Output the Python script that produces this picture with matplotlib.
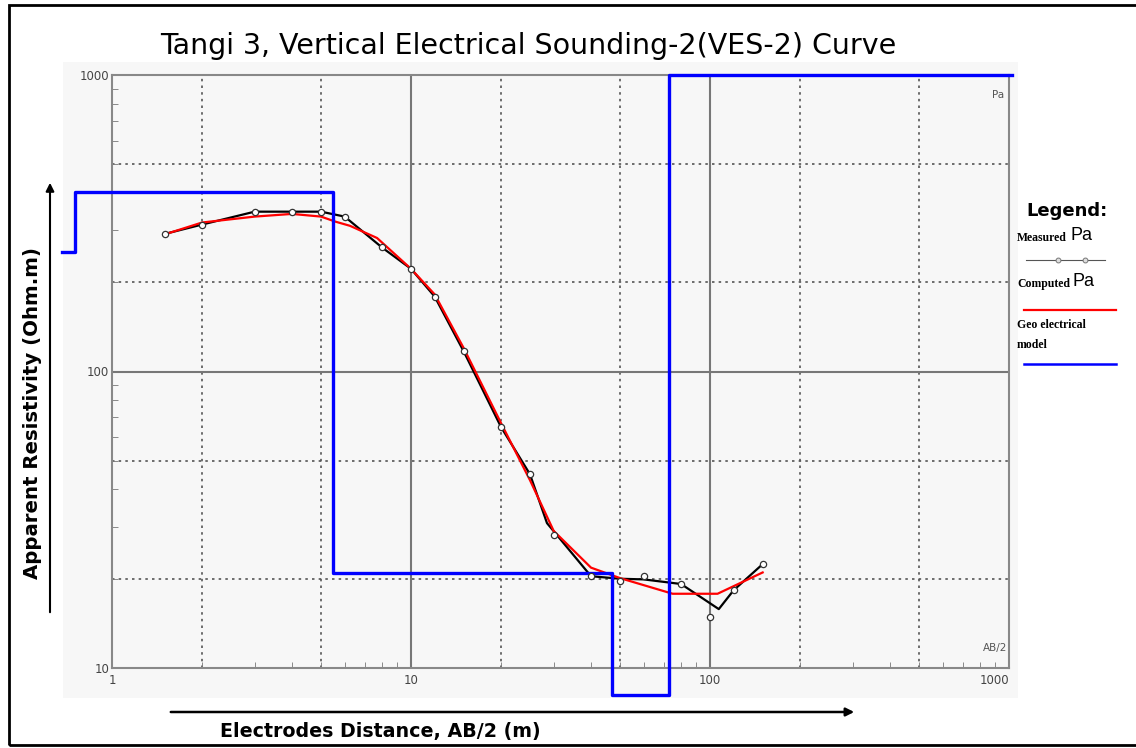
import matplotlib
matplotlib.use('Agg')
import matplotlib.pyplot as plt
from matplotlib.lines import Line2D
from matplotlib.patches import Rectangle

# measured apparent resistivity (open circles)
ab2 = [1.5, 2, 3, 4, 5, 6, 8, 10, 12, 15, 20, 25, 30, 40, 50, 60, 80, 100, 120, 150]
rho_measured = [291, 313, 346, 346, 346, 333, 262, 222, 179, 117, 65, 45, 28.2, 20.4, 19.6, 20.4, 19.2, 14.9, 18.3, 22.4]

# black line through the measured data
line_x = [1.5, 2, 3, 4, 5, 6, 8, 10, 12, 15, 20, 25, 28.5, 40, 50, 60, 80, 107, 120, 150]
line_y = [291, 313, 346, 346, 346, 333, 262, 222, 179, 117, 65, 45, 30.8, 20.4, 20.0, 19.9, 19.2, 15.8, 18.3, 22.4]

# computed curve (red)
comp_x = [1.5, 2, 3, 4, 5, 5.6, 6.25, 7.7, 10, 12, 15, 20, 25, 30, 40, 50, 75, 106, 150]
comp_y = [290, 318, 333, 340, 333, 320, 310, 282, 222, 182, 120, 67, 43, 29, 21.8, 20.1, 17.8, 17.8, 21.0]

# geo-electrical model (blue step)
model_x = [0.68, 0.75, 5.5, 47, 73, 1025]
model_y = [253, 403, 20.9, 8.1, 1000, 1000]

fig = plt.figure(figsize=(11.36, 7.48), dpi=100)
fig.patch.set_facecolor('white')

# light grey panel and outer frame
fig.add_artist(Rectangle((63 / 1136, 1 - 698 / 748), (1018 - 63) / 1136, (698 - 62) / 748,
                         transform=fig.transFigure, facecolor='#f7f7f7', edgecolor='none', zorder=0))
fig.add_artist(Rectangle((9 / 1136, 3 / 748), 1.2, 1 - 8 / 748,
                         transform=fig.transFigure, facecolor='none', edgecolor='black', lw=2, zorder=5))

ax = fig.add_axes([112 / 1136, 1 - 668 / 748, (1009 - 112) / 1136, (668 - 75) / 748])
ax.set_facecolor('#f7f7f7')
ax.set_xscale('log')
ax.set_yscale('log')

# grid
for v in [2, 5, 20, 50, 200, 500]:
    ax.axvline(v, color='#555555', lw=1.2, ls=(0, (1.5, 2.5)), zorder=1)
for v in [20, 50, 200, 500]:
    ax.axhline(v, color='#555555', lw=1.2, ls=(0, (1.5, 2.5)), zorder=1)
for v in [10, 100]:
    ax.axvline(v, color='#777777', lw=1.5, zorder=1)
ax.axhline(100, color='#777777', lw=1.5, zorder=1)

for s in ax.spines.values():
    s.set_color('#888888')
    s.set_linewidth(1.5)

ax.set_xticks([1, 10, 100, 1000])
ax.set_xticklabels(['1', '10', '100', '1000'])
ax.set_yticks([10, 100, 1000])
ax.set_yticklabels(['10', '100', '1000'])
ax.set_xticks([m * d for d in [1, 10, 100] for m in range(2, 10)], minor=True)
ax.set_yticks([m * d for d in [10, 100] for m in range(2, 10)], minor=True)
ax.tick_params(which='major', length=0, labelsize=8.5, labelcolor='#444444', pad=4)
ax.tick_params(which='minor', direction='in', length=4, color='#777777', labelbottom=False, labelleft=False)
ax.tick_params(axis='y', which='major', pad=2)
ax.get_xticklabels()[-1].set_horizontalalignment('right')

ax.text(0.995, 0.975, 'Pa', transform=ax.transAxes, ha='right', va='top', fontsize=7.5, color='#555555')
ax.text(0.998, 0.025, 'AB/2', transform=ax.transAxes, ha='right', va='bottom', fontsize=7.5, color='#555555')

ax.step(model_x, model_y, where='post', color='#0000ff', lw=2.4, clip_on=False, zorder=4)
ax.plot(line_x, line_y, color='black', lw=1.6, zorder=3)
ax.plot(comp_x, comp_y, color='#ff0000', lw=1.6, zorder=3)
ax.plot(ab2, rho_measured, ls='none', marker='o', ms=4.5, mfc='white', mec='#333333', mew=0.9, zorder=5)

ax.set_xlim(1, 1000)
ax.set_ylim(10, 1000)

fig.text(528 / 1136, 1 - 46 / 748, 'Tangi 3, Vertical Electrical Sounding-2(VES-2) Curve',
         ha='center', va='center', fontsize=20.5, family='DejaVu Sans')

# axis labels with arrows
fig.text(33 / 1136, 1 - 413 / 748, 'Apparent Resistivity (Ohm.m)', rotation=90, ha='center', va='center',
         fontsize=14.2, fontweight='bold', family='DejaVu Sans')
fig.text(380 / 1136, 1 - 731 / 748, 'Electrodes Distance, AB/2 (m)', ha='center', va='center',
         fontsize=13.7, fontweight='bold', family='DejaVu Sans')
ax.annotate('', xy=(50 / 1136, 1 - 180 / 748), xytext=(50 / 1136, 1 - 615 / 748),
            xycoords='figure fraction', arrowprops=dict(arrowstyle='-|>', color='black', lw=1.5,
                                                         mutation_scale=12))
ax.annotate('', xy=(857 / 1136, 1 - 712 / 748), xytext=(168 / 1136, 1 - 712 / 748),
            xycoords='figure fraction', arrowprops=dict(arrowstyle='-|>', color='black', lw=1.8,
                                                         mutation_scale=12))

# legend
def fx(p):
    return p / 1136


def fy(p):
    return 1 - p / 748


fig.text(fx(1026), fy(211), 'Legend:', fontsize=13, fontweight='bold', va='center', family='DejaVu Sans')
fig.text(fx(1017), fy(238), 'Measured', fontsize=8.5, fontweight='bold', va='center', family='Liberation Serif')
fig.text(fx(1071), fy(236), 'Pa', fontsize=13, va='center', family='Liberation Sans')
fig.add_artist(Line2D([fx(1026), fx(1105)], [fy(260), fy(260)], color='#555555', lw=0.8,
                      transform=fig.transFigure))
fig.add_artist(Line2D([fx(1058), fx(1085)], [fy(260), fy(260)], ls='none', marker='o', ms=3.5,
                      mfc='#dddddd', mec='#777777', mew=0.7, transform=fig.transFigure))
fig.text(fx(1017), fy(284), 'Computed', fontsize=8.5, fontweight='bold', va='center', family='Liberation Serif')
fig.text(fx(1073), fy(282), 'Pa', fontsize=13, va='center', family='Liberation Sans')
fig.add_artist(Line2D([fx(1024), fx(1116)], [fy(310), fy(310)], color='#ff0000', lw=1.6,
                      transform=fig.transFigure))
fig.text(fx(1017), fy(325), 'Geo electrical', fontsize=8.5, fontweight='bold', va='center', family='Liberation Serif')
fig.text(fx(1017), fy(345), 'model', fontsize=8.5, fontweight='bold', va='center', family='Liberation Serif')
fig.add_artist(Line2D([fx(1024), fx(1116)], [fy(364), fy(364)], color='#0000ff', lw=1.8,
                      transform=fig.transFigure))

fig.savefig('out.png', dpi=100)
